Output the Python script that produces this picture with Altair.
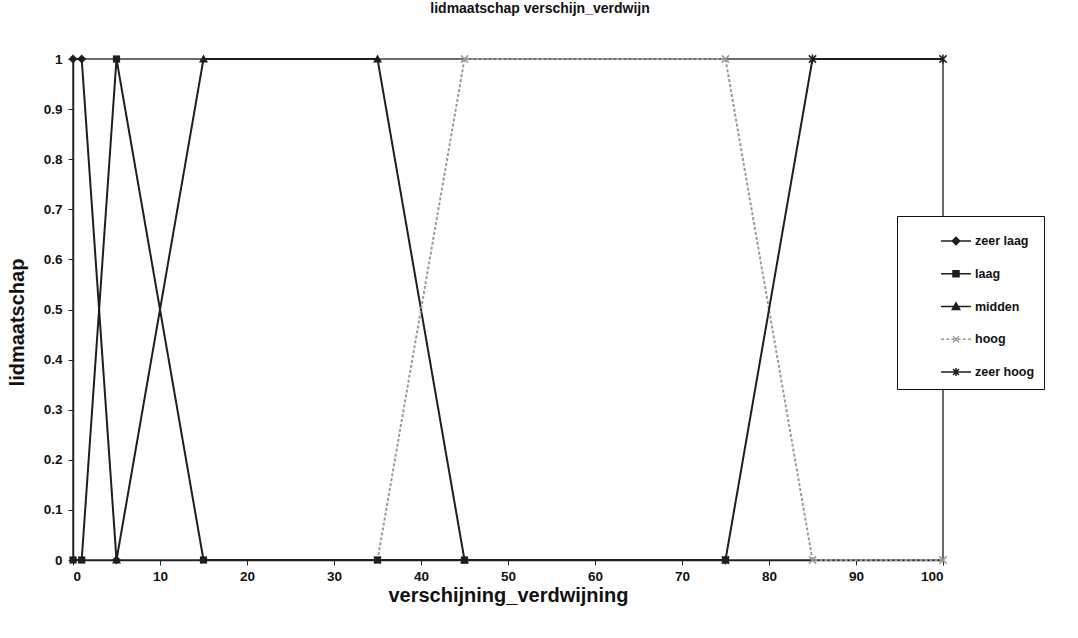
import altair as alt
import pandas as pd

# Membership functions: breakpoints (x) and membership degree (y) per class
series_names = ["zeer laag", "laag", "midden", "hoog", "zeer hoog"]

zeer_laag_x = [0, 1, 5]
zeer_laag_y = [1, 1, 0]

laag_x = [0, 1, 5, 15, 35, 45, 75]
laag_y = [0, 0, 1, 0, 0, 0, 0]

midden_x = [5, 15, 35, 45]
midden_y = [0, 1, 1, 0]

hoog_x = [35, 45, 75, 85, 100]
hoog_y = [0, 1, 1, 0, 0]

zeer_hoog_x = [75, 85, 100]
zeer_hoog_y = [0, 1, 1]

x_ticks = [0, 10, 20, 30, 40, 50, 60, 70, 80, 90, 100]
y_ticks = [0, 0.1, 0.2, 0.3, 0.4, 0.5, 0.6, 0.7, 0.8, 0.9, 1]

DARK = "#1e1e1e"
GREY = "#9a9a9a"
series_colors = [DARK, DARK, DARK, GREY, DARK]

rows = []
for name, xs, ys in [
    ("zeer laag", zeer_laag_x, zeer_laag_y),
    ("laag", laag_x, laag_y),
    ("midden", midden_x, midden_y),
    ("hoog", hoog_x, hoog_y),
    ("zeer hoog", zeer_hoog_x, zeer_hoog_y),
]:
    for xv, yv in zip(xs, ys):
        rows.append({"klasse": name, "x": xv, "y": yv})
df = pd.DataFrame(rows)

FONT = "Liberation Sans"

x_enc = alt.X(
    "x:Q",
    scale=alt.Scale(domain=[0, 100], nice=False, zero=False),
    axis=alt.Axis(
        values=x_ticks,
        title="verschijning_verdwijning",
        titleFontSize=20,
        titleFontWeight="bold",
        titleFont=FONT,
        titleColor="#111",
        titleY=35,
        titleBaseline="middle",
        labelFont=FONT,
        labelFontSize=13.5,
        labelFontWeight="bold",
        labelColor="#111",
        labelPadding=4,
        tickSize=5,
        tickColor="#222",
        domainColor="#222",
        domainWidth=1.5,
        grid=False,
    ),
)
y_enc = alt.Y(
    "y:Q",
    scale=alt.Scale(domain=[0, 1], nice=False),
    axis=alt.Axis(
        values=y_ticks,
        format="~g",
        title="lidmaatschap",
        titleFontSize=20,
        titleFontWeight="bold",
        titleFont=FONT,
        titleColor="#111",
        titleX=-56,
        titleY=263,
        titleBaseline="middle",
        labelFont=FONT,
        labelFontSize=13.5,
        labelFontWeight="bold",
        labelColor="#111",
        labelPadding=6,
        tickSize=5,
        tickColor="#222",
        domainColor="#222",
        domainWidth=1.5,
        grid=False,
    ),
)

base = alt.Chart(df)

# Marker shapes on the data points
marker_paths = {
    "zeer laag": ("M0,-1L1,0L0,1L-1,0Z", True),
    "laag": ("M-0.8,-0.8H0.8V0.8H-0.8Z", True),
    "midden": ("M0,-1L1,0.8H-1Z", True),
    "hoog": ("M-0.8,-0.8L0.8,0.8M-0.8,0.8L0.8,-0.8", False),
    "zeer hoog": ("M-0.8,-0.8L0.8,0.8M-0.8,0.8L0.8,-0.8M0,-1V1", False),
}

line_layers = []
for name in series_names:
    col = series_colors[series_names.index(name)]
    dash = [3, 2] if name == "hoog" else [1, 0]
    line_layers.append(
        base.transform_filter(alt.datum.klasse == name)
        .mark_line(color=col, strokeWidth=2, strokeDash=dash)
        .encode(x=x_enc, y=y_enc)
    )

# draw order so that the squares end up on top at the shared zero points
point_layers = []
for name in ["zeer laag", "midden", "hoog", "zeer hoog", "laag"]:
    path, filled = marker_paths[name]
    col = series_colors[series_names.index(name)]
    point_layers.append(
        base.transform_filter(alt.datum.klasse == name)
        .mark_point(shape=path, filled=filled, size=81, opacity=1,
                    color=col, strokeWidth=1.5)
        .encode(x=x_enc, y=y_enc)
    )

# Legend symbols: a short line segment with the marker on it
legend_paths = [
    "M-1,0H1M0,-0.25L0.25,0L0,0.25L-0.25,0Z",
    "M-1,0H1M-0.2,-0.2H0.2V0.2H-0.2Z",
    "M-1,0H1M0,-0.25L0.25,0.2H-0.25Z",
    "M-1,0H-0.8M-0.65,0H-0.45M-0.3,0H-0.1M0.1,0H0.3M0.45,0H0.65M0.8,0H1"
    "M-0.2,-0.2L0.2,0.2M-0.2,0.2L0.2,-0.2",
    "M-1,0H1M-0.2,-0.2L0.2,0.2M-0.2,0.2L0.2,-0.2M0,-0.27V0.27",
]

legend_def = alt.Legend(
    title=None,
    orient="none",
    legendX=824,
    legendY=157,
    padding=9,
    rowPadding=9.75,
    symbolSize=900,
    symbolOffset=34,
    symbolStrokeWidth=1.5,
    symbolOpacity=1,
    labelOffset=3,
    labelFont=FONT,
    labelFontSize=12.5,
    labelFontWeight="bold",
    labelColor="#111",
    strokeColor="#111",
    fillColor="white",
)

legend_layer = base.mark_point(filled=True, opacity=0).encode(
    x=x_enc,
    y=y_enc,
    color=alt.Color("klasse:N", scale=alt.Scale(domain=series_names, range=series_colors),
                    legend=legend_def),
    stroke=alt.Stroke("klasse:N", scale=alt.Scale(domain=series_names, range=series_colors),
                      legend=legend_def),
    shape=alt.Shape("klasse:N", scale=alt.Scale(domain=series_names, range=legend_paths),
                    legend=legend_def),
)

chart = (
    alt.layer(*line_layers, *point_layers, legend_layer)
    .properties(
        width=870,
        height=501,
        view=alt.ViewBackground(stroke="#6a6a6a", strokeWidth=2),
        title=alt.Title(
            "lidmaatschap verschijn_verdwijn",
            font=FONT,
            fontSize=14,
            fontWeight="bold",
            color="#111",
            anchor="middle",
            dx=32,
            offset=36,
        ),
        autosize=alt.AutoSizeParams(type="none"),
        padding={"left": 73, "top": 59, "right": 135, "bottom": 78},
    )
    .configure(background="white")
)

chart.save("out.html", embed_options={"renderer": "svg", "actions": False})
